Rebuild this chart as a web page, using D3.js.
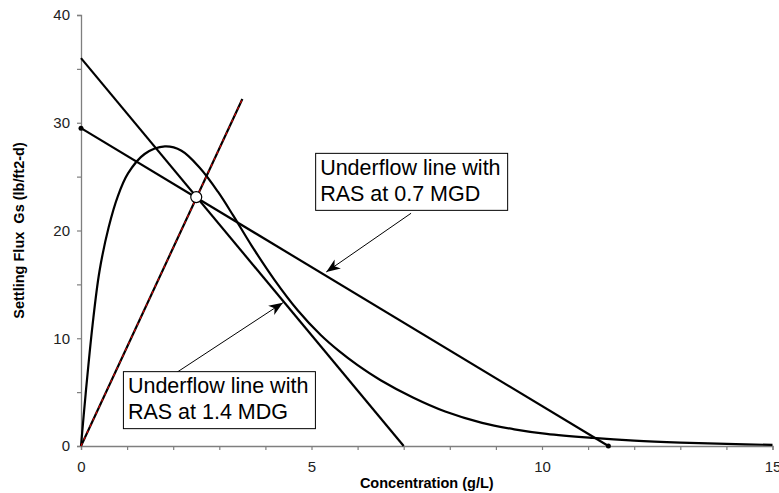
<!DOCTYPE html>
<html>
<head>
<meta charset="utf-8">
<script src="https://cdn.jsdelivr.net/npm/d3@7"></script>
<style>
  body { margin: 0; background: #fff; }
  svg { font-family: Arial, "Liberation Sans", sans-serif; }
</style>
</head>
<body>
<svg id="canvas"></svg>
<script>
//--data
let fluxConc = [0, 0.1, 0.25, 0.4, 0.6, 0.8, 1.02, 1.38, 1.82, 2.18, 2.58, 2.97, 3.3, 3.7, 4.2, 4.7, 5.2, 5.6, 6.0, 6.5, 7.2, 7.9, 8.7, 9.4, 10.1, 11.1, 12, 13, 14, 15];
let fluxValues = [0, 4.8, 11.2, 16.2, 20.3, 23.2, 25.3, 27.1, 27.8, 27.4, 25.8, 23.6, 21.4, 18.6, 15.4, 12.6, 10.3, 8.8, 7.5, 6.1, 4.5, 3.2, 2.15, 1.55, 1.12, 0.75, 0.5, 0.32, 0.2, 0.1];

let rasHighConc = [0, 7];
let rasHighFlux = [36, 0];
let rasLowConc = [0, 11.44];
let rasLowFlux = [29.5, 0];
let feedConc = [0, 3.5];
let feedFlux = [0, 32.2];
let stateConc = 2.5;
let stateFlux = 23.1;

let xTicks = [0, 5, 10, 15];
let yTicks = [0, 10, 20, 30, 40];

// annotation anchors in data units: box corner, arrow start, arrow tip
let notes = [
  {lines: ['Underflow line with', 'RAS at 0.7 MGD'], box: [5.09, 27.16], from: [7.16, 21.6], to: [5.32, 16.15]},
  {lines: ['Underflow line with', 'RAS at 1.4 MDG'], box: [0.92, 6.9], from: [2.08, 6.84], to: [4.38, 13.3]}
];
//--

let width = 779;
let height = 493;
let margin = {left: 81, top: 15, right: 6.5, bottom: 47};

let canvas = d3.select('#canvas').attr('width', width).attr('height', height);

let x = d3.scaleLinear().domain([0, 15]).range([margin.left, width - margin.right]);
let y = d3.scaleLinear().domain([0, 40]).range([height - margin.bottom, margin.top]);

let zip = (a, b) => a.map((v, i) => [v, b[i]]);

//--axes
let axisColor = '#7f7f7f';

let xAxis = canvas.append('g')
  .attr('transform', 'translate(0,' + y(0) + ')')
  .call(d3.axisBottom(x).tickValues(d3.range(0, 16, 1)).tickSize(4).tickPadding(11.5)
    .tickFormat(d => xTicks.includes(d) ? d : ''));

let yAxis = canvas.append('g')
  .attr('transform', 'translate(' + x(0) + ',0)')
  .call(d3.axisLeft(y).tickValues(d3.range(0, 41, 5)).tickSize(4).tickPadding(7)
    .tickFormat(d => yTicks.includes(d) ? d : ''));

[xAxis, yAxis].forEach(ax => {
  ax.select('.domain').attr('stroke', axisColor).attr('stroke-width', 1.3);
  ax.selectAll('.tick line').attr('stroke', axisColor).attr('stroke-width', 1.2);
  ax.selectAll('.tick text').attr('fill', '#222').attr('font-size', 15)
    .attr('font-family', 'Arial, "Liberation Sans", sans-serif');
});

canvas.append('text')
  .attr('x', (x(0) + x(15)) / 2)
  .attr('y', 488)
  .attr('text-anchor', 'middle')
  .attr('font-size', 14.5)
  .attr('font-weight', 'bold')
  .text('Concentration (g/L)');

canvas.append('text')
  .attr('transform', 'translate(24,' + (y(0) + y(40)) / 2 + ') rotate(-90)')
  .attr('text-anchor', 'middle')
  .attr('font-size', 14.5)
  .attr('font-weight', 'bold')
  .style('white-space', 'pre')
  .text('Settling Flux  Gs (lb/ft2-d)');
//--

//--lines
let line = d3.line().x(d => x(d[0])).y(d => y(d[1]));
let smooth = d3.line().x(d => x(d[0])).y(d => y(d[1])).curve(d3.curveCatmullRom.alpha(0.5));

canvas.append('path')
  .datum(zip(fluxConc, fluxValues))
  .attr('d', smooth)
  .attr('fill', 'none')
  .attr('stroke', '#000')
  .attr('stroke-width', 2.2);

canvas.append('path')
  .datum(zip(rasHighConc, rasHighFlux))
  .attr('d', line)
  .attr('fill', 'none')
  .attr('stroke', '#000')
  .attr('stroke-width', 2.2);

canvas.append('path')
  .datum(zip(rasLowConc, rasLowFlux))
  .attr('d', line)
  .attr('fill', 'none')
  .attr('stroke', '#000')
  .attr('stroke-width', 2.2);

canvas.selectAll('.endpoint')
  .data(zip(rasLowConc, rasLowFlux))
  .enter()
  .append('circle')
  .attr('class', 'endpoint')
  .attr('cx', d => x(d[0]))
  .attr('cy', d => y(d[1]))
  .attr('r', 2.5)
  .attr('fill', '#000');

canvas.append('path')
  .datum(zip(feedConc, feedFlux))
  .attr('d', line)
  .attr('fill', 'none')
  .attr('stroke', '#000')
  .attr('stroke-width', 2.2);

canvas.append('path')
  .datum(zip(feedConc, feedFlux))
  .attr('d', line)
  .attr('fill', 'none')
  .attr('stroke', '#e00000')
  .attr('stroke-width', 1.1)
  .attr('stroke-dasharray', '3,4');

canvas.append('circle')
  .attr('cx', x(stateConc))
  .attr('cy', y(stateFlux))
  .attr('r', 5.5)
  .attr('fill', '#fff')
  .attr('stroke', '#000')
  .attr('stroke-width', 1.2);
//--

//--annotations
canvas.append('defs').append('marker')
  .attr('id', 'head')
  .attr('viewBox', '0 -6 14 12')
  .attr('refX', 14)
  .attr('refY', 0)
  .attr('markerWidth', 14)
  .attr('markerHeight', 12)
  .attr('markerUnits', 'userSpaceOnUse')
  .attr('orient', 'auto')
  .append('path')
  .attr('d', 'M14,0 L0,-5.5 L4,0 L0,5.5 Z')
  .attr('fill', '#000');

let note = canvas.selectAll('.note')
  .data(notes)
  .enter()
  .append('g')
  .attr('class', 'note');

note.append('line')
  .attr('x1', d => x(d.from[0]))
  .attr('y1', d => y(d.from[1]))
  .attr('x2', d => x(d.to[0]))
  .attr('y2', d => y(d.to[1]))
  .attr('stroke', '#000')
  .attr('stroke-width', 1)
  .attr('marker-end', 'url(#head)');

note.append('rect')
  .attr('x', d => x(d.box[0]))
  .attr('y', d => y(d.box[1]))
  .attr('width', 192)
  .attr('height', 57)
  .attr('fill', '#fff')
  .attr('stroke', '#000')
  .attr('stroke-width', 1);

note.each(function (d) {
  d3.select(this).selectAll('text.label')
    .data(d.lines)
    .enter()
    .append('text')
    .attr('class', 'label')
    .attr('x', x(d.box[0]) + 4.5)
    .attr('y', (t, i) => y(d.box[1]) + 21.5 + i * 26)
    .attr('font-size', 21.5)
    .attr('fill', '#000')
    .text(t => t);
});
//--
</script>
</body>
</html>
